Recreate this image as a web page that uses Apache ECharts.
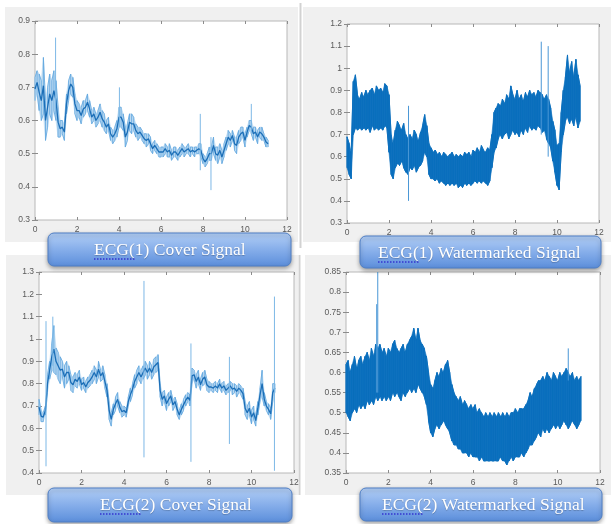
<!DOCTYPE html>
<html><head><meta charset="utf-8">
<script src="https://cdn.jsdelivr.net/npm/echarts@6/dist/echarts.min.js"></script>
<style>html,body{margin:0;padding:0;background:#fff}#c{width:611px;height:524px}</style>
</head><body><div id="c"></div>
<script>
// time step of the sampled envelopes (seconds)
const STEP = 0.1;
const xTicks = [0, 2, 4, 6, 8, 10, 12];

// ECG(1) cover signal: lower / upper envelope every 0.1 s
const c1Lo = [0.66,0.68,0.63,0.60,0.62,0.54,0.58,0.62,0.60,0.63,
0.60,0.55,0.55,0.56,0.54,0.62,0.66,0.68,0.67,0.62,
0.60,0.61,0.59,0.61,0.62,0.63,0.61,0.59,0.60,0.58,
0.59,0.60,0.58,0.57,0.56,0.57,0.54,0.53,0.54,0.55,
0.58,0.58,0.57,0.52,0.54,0.57,0.56,0.57,0.55,0.54,
0.55,0.54,0.53,0.52,0.53,0.51,0.50,0.51,0.50,0.49,
0.49,0.49,0.50,0.49,0.49,0.48,0.49,0.49,0.48,0.49,
0.50,0.49,0.50,0.50,0.49,0.50,0.49,0.50,0.50,0.49,
0.47,0.46,0.47,0.48,0.48,0.50,0.48,0.47,0.49,0.47,
0.49,0.51,0.53,0.52,0.54,0.51,0.50,0.53,0.54,0.55,
0.52,0.55,0.57,0.56,0.54,0.55,0.53,0.55,0.54,0.54,
0.52,0.52];
const c1Hi = [0.73,0.75,0.74,0.72,0.79,0.66,0.70,0.74,0.72,0.75,
0.72,0.64,0.60,0.60,0.59,0.68,0.72,0.74,0.73,0.68,
0.66,0.65,0.64,0.66,0.66,0.68,0.66,0.63,0.64,0.62,
0.63,0.65,0.63,0.62,0.60,0.61,0.58,0.57,0.58,0.60,
0.64,0.64,0.62,0.58,0.59,0.62,0.62,0.61,0.59,0.58,
0.58,0.57,0.56,0.56,0.56,0.55,0.53,0.54,0.53,0.52,
0.52,0.52,0.53,0.52,0.53,0.51,0.52,0.52,0.51,0.52,
0.53,0.52,0.52,0.53,0.52,0.52,0.52,0.52,0.53,0.53,
0.50,0.49,0.50,0.52,0.52,0.55,0.52,0.52,0.53,0.51,
0.53,0.55,0.57,0.56,0.57,0.55,0.55,0.57,0.58,0.58,
0.56,0.58,0.60,0.60,0.58,0.58,0.57,0.58,0.58,0.56,
0.55,0.54];
const c1SpkT = [0.98, 4.02, 7.87, 8.38, 10.3];
const c1SpkLo = [0.62, 0.58, 0.45, 0.39, 0.57];
const c1SpkHi = [0.85, 0.70, 0.62, 0.55, 0.65];

// ECG(1) watermarked signal
const w1Lo = [0.55,0.52,0.50,0.70,0.73,0.72,0.73,0.72,0.73,0.72,
0.73,0.71,0.74,0.72,0.73,0.72,0.73,0.72,0.74,0.73,
0.62,0.52,0.50,0.55,0.57,0.56,0.58,0.55,0.53,0.52,
0.55,0.54,0.56,0.53,0.55,0.56,0.58,0.62,0.60,0.52,
0.50,0.50,0.49,0.50,0.48,0.49,0.48,0.47,0.48,0.47,
0.48,0.47,0.48,0.46,0.47,0.46,0.48,0.47,0.48,0.47,
0.48,0.49,0.48,0.49,0.48,0.49,0.48,0.47,0.49,0.55,
0.62,0.64,0.68,0.70,0.68,0.70,0.71,0.68,0.70,0.72,
0.70,0.71,0.69,0.72,0.70,0.73,0.71,0.74,0.72,0.73,
0.72,0.74,0.73,0.71,0.72,0.68,0.66,0.64,0.58,0.53,
0.47,0.45,0.62,0.70,0.76,0.78,0.75,0.77,0.74,0.78,
0.73,0.76];
const w1Hi = [0.69,0.66,0.62,0.94,0.97,0.88,0.86,0.89,0.87,0.90,
0.88,0.90,0.91,0.88,0.92,0.90,0.91,0.89,0.93,0.92,
0.88,0.70,0.66,0.72,0.76,0.74,0.72,0.75,0.70,0.68,
0.70,0.68,0.72,0.70,0.67,0.71,0.74,0.79,0.74,0.66,
0.64,0.62,0.63,0.61,0.62,0.60,0.62,0.61,0.60,0.61,
0.62,0.60,0.61,0.60,0.61,0.60,0.62,0.61,0.62,0.60,
0.63,0.62,0.64,0.62,0.65,0.63,0.62,0.64,0.63,0.70,
0.80,0.82,0.84,0.83,0.86,0.84,0.88,0.86,0.92,0.88,
0.86,0.90,0.86,0.88,0.85,0.89,0.87,0.90,0.88,0.89,
0.87,0.90,0.89,0.88,0.86,0.88,0.86,0.82,0.76,0.72,
0.65,0.66,0.80,0.90,0.96,1.06,0.98,1.03,0.96,1.04,
0.97,0.92];
const w1SpkT = [2.93, 9.25, 9.58];
const w1SpkLo = [0.40, 0.70, 0.60];
const w1SpkHi = [0.83, 1.12, 1.10];

// ECG(2) cover signal
const c2Lo = [0.66,0.63,0.63,0.66,0.76,0.82,0.86,0.85,0.84,0.82,
0.80,0.83,0.78,0.80,0.82,0.77,0.76,0.79,0.78,0.80,
0.77,0.78,0.76,0.78,0.79,0.80,0.82,0.80,0.83,0.81,
0.82,0.78,0.74,0.64,0.61,0.66,0.68,0.70,0.67,0.65,
0.66,0.65,0.70,0.72,0.75,0.78,0.80,0.82,0.80,0.82,
0.84,0.82,0.84,0.82,0.84,0.85,0.86,0.74,0.70,0.72,
0.68,0.70,0.72,0.68,0.70,0.66,0.64,0.66,0.68,0.70,
0.72,0.70,0.80,0.82,0.78,0.80,0.77,0.79,0.80,0.77,
0.76,0.77,0.76,0.77,0.76,0.78,0.76,0.77,0.75,0.76,
0.77,0.75,0.76,0.74,0.76,0.75,0.73,0.66,0.64,0.66,
0.62,0.64,0.61,0.66,0.72,0.74,0.70,0.68,0.66,0.64,
0.72,0.76];
const c2Hi = [0.73,0.68,0.67,0.70,0.84,0.90,0.98,1.06,0.96,0.94,
0.92,0.90,0.88,0.90,0.88,0.84,0.83,0.85,0.84,0.86,
0.82,0.83,0.81,0.83,0.84,0.86,0.88,0.86,0.90,0.86,
0.88,0.84,0.80,0.72,0.67,0.71,0.74,0.76,0.72,0.70,
0.70,0.69,0.74,0.78,0.80,0.84,0.86,0.88,0.86,0.88,
0.90,0.88,0.90,0.88,0.91,0.92,0.93,0.80,0.76,0.77,
0.74,0.76,0.77,0.73,0.74,0.71,0.68,0.71,0.73,0.75,
0.76,0.75,0.87,0.86,0.84,0.86,0.82,0.85,0.86,0.82,
0.81,0.80,0.80,0.81,0.80,0.82,0.80,0.81,0.79,0.80,
0.81,0.80,0.80,0.79,0.80,0.79,0.78,0.72,0.70,0.72,
0.68,0.70,0.66,0.72,0.78,0.86,0.76,0.72,0.71,0.69,
0.80,0.80];
const c2SpkT = [0.33, 0.65, 4.94, 7.15, 8.96, 11.08];
const c2SpkLo = [0.43, 0.88, 0.47, 0.45, 0.53, 0.41];
const c2SpkHi = [1.08, 1.10, 1.26, 0.98, 0.92, 1.19];

// ECG(2) watermarked signal
const w2Lo = [0.50,0.49,0.48,0.50,0.51,0.50,0.52,0.51,0.52,0.51,
0.53,0.52,0.53,0.52,0.54,0.53,0.54,0.53,0.54,0.53,
0.54,0.53,0.55,0.54,0.55,0.54,0.53,0.55,0.54,0.55,
0.56,0.55,0.56,0.55,0.57,0.56,0.55,0.54,0.52,0.48,
0.45,0.44,0.46,0.47,0.46,0.47,0.48,0.47,0.46,0.45,
0.43,0.42,0.42,0.41,0.41,0.40,0.40,0.40,0.39,0.40,
0.39,0.39,0.39,0.38,0.39,0.38,0.38,0.38,0.38,0.38,
0.38,0.38,0.38,0.39,0.38,0.38,0.37,0.38,0.39,0.38,
0.39,0.39,0.39,0.40,0.39,0.40,0.41,0.42,0.42,0.43,
0.44,0.45,0.44,0.46,0.45,0.46,0.45,0.46,0.47,0.46,
0.47,0.46,0.47,0.48,0.47,0.46,0.47,0.48,0.47,0.46,
0.47,0.48];
const w2Hi = [0.62,0.63,0.60,0.62,0.64,0.61,0.63,0.64,0.62,0.64,
0.65,0.63,0.66,0.64,0.67,0.66,0.67,0.65,0.66,0.64,
0.66,0.65,0.67,0.68,0.66,0.65,0.66,0.67,0.65,0.67,
0.68,0.69,0.71,0.68,0.71,0.68,0.67,0.66,0.64,0.60,
0.57,0.56,0.58,0.60,0.59,0.61,0.60,0.62,0.63,0.60,
0.57,0.55,0.54,0.53,0.54,0.52,0.53,0.52,0.51,0.52,
0.51,0.52,0.50,0.51,0.50,0.49,0.50,0.49,0.50,0.49,
0.50,0.49,0.50,0.49,0.50,0.49,0.50,0.49,0.50,0.50,
0.51,0.50,0.51,0.51,0.51,0.52,0.53,0.55,0.54,0.56,
0.57,0.58,0.58,0.59,0.58,0.60,0.59,0.58,0.60,0.59,
0.58,0.60,0.59,0.60,0.61,0.60,0.59,0.60,0.58,0.59,
0.58,0.59];
const w2SpkT = [1.45, 1.50, 10.5];
const w2SpkLo = [0.55, 0.55, 0.58];
const w2SpkHi = [0.77, 0.85, 0.66];

const titles = ['ECG(1) Cover Signal', 'ECG(1) Watermarked Signal', 'ECG(2) Cover Signal', 'ECG(2) Watermarked Signal'];

const panels = [
  {lo:c1Lo, hi:c1Hi, st:c1SpkT, sl:c1SpkLo, sh:c1SpkHi, cover:true,  g:{left:35, top:21, width:252, height:199}, y:[0.3,0.9,0.1]},
  {lo:w1Lo, hi:w1Hi, st:w1SpkT, sl:w1SpkLo, sh:w1SpkHi, cover:false, g:{left:347,top:24, width:252, height:199}, y:[0.3,1.2,0.1]},
  {lo:c2Lo, hi:c2Hi, st:c2SpkT, sl:c2SpkLo, sh:c2SpkHi, cover:true,  g:{left:39, top:272,width:255, height:201}, y:[0.4,1.3,0.1]},
  {lo:w2Lo, hi:w2Hi, st:w2SpkT, sl:w2SpkLo, sh:w2SpkHi, cover:false, g:{left:346,top:272,width:254, height:201}, y:[0.35,0.85,0.05]}
];

const tOf = i => +(i * STEP).toFixed(2);
function zigzag(lo, hi) {
  const d = [];
  for (let i = 0; i < lo.length; i++) {
    if (i % 2 === 0) { d.push([tOf(i), lo[i]], [tOf(i), hi[i]]); }
    else { d.push([tOf(i), hi[i]], [tOf(i), lo[i]]); }
  }
  return d;
}
// band segments: [t, lo, hi, tNext, loNext, hiNext]
function segments(lo, hi) {
  const d = [];
  for (let i = 0; i + 1 < lo.length; i++) d.push([tOf(i), lo[i], hi[i], tOf(i + 1), lo[i + 1], hi[i + 1]]);
  return d;
}
const core = (lo, hi) => lo.map((v, i) => [tOf(i), (v + hi[i]) / 2]);
function spikes(t, lo, hi) {
  const d = [];
  t.forEach((x, i) => { d.push([x, lo[i]], [x, hi[i]], [x, '-']); });
  return d;
}
function bandRenderer(color) {
  return function (params, api) {
    const a = api.coord([api.value(0), api.value(1)]);
    const b = api.coord([api.value(0), api.value(2)]);
    const c = api.coord([api.value(3), api.value(5)]);
    const d = api.coord([api.value(3), api.value(4)]);
    return {type:'polygon', shape:{points:[a, b, c, d]}, style:{fill:color, stroke:color, lineWidth:0.6}, silent:true};
  };
}

const grids = [], xAxes = [], yAxes = [], series = [];
const tickStyle = {color:'#8c8c8c', width:1};
const labelStyle = {fontSize:8.5, color:'#5a5a5a', margin:5, fontFamily:'Liberation Sans'};
panels.forEach((p, k) => {
  grids.push(Object.assign({show:true, backgroundColor:'#ffffff', borderColor:'#b8b8b8', borderWidth:1, containLabel:false, outerBoundsMode:'none'}, p.g));
  const xBase = {type:'value', gridIndex:k, min:0, max:12, interval:2, splitLine:{show:false}, axisLine:{show:false},
    axisTick:{show:true, inside:true, length:3, lineStyle:tickStyle}};
  xAxes.push(Object.assign({}, xBase, {position:'bottom', axisLabel:labelStyle}));
  xAxes.push(Object.assign({}, xBase, {position:'top', axisLabel:{show:false}}));
  const yBase = {type:'value', gridIndex:k, min:p.y[0], max:p.y[1], interval:p.y[2], splitLine:{show:false}, axisLine:{show:false},
    axisTick:{show:true, inside:true, length:3, lineStyle:tickStyle}};
  yAxes.push(Object.assign({}, yBase, {position:'left', axisLabel:labelStyle}));
  yAxes.push(Object.assign({}, yBase, {position:'right', axisLabel:{show:false}}));
  const xi = 2 * k, yi = 2 * k;
  const common = {type:'line', xAxisIndex:xi, yAxisIndex:yi, symbol:'none', silent:true, animation:false, sampling:null, connectNulls:false};
  const fill = p.cover ? '#bcdaf2' : '#0a6fbd';
  series.push({type:'custom', xAxisIndex:xi, yAxisIndex:yi, silent:true, animation:false, renderItem:bandRenderer(fill),
    encode:{x:[0, 3], y:[1, 2, 4, 5]}, data:segments(p.lo, p.hi)});
  if (p.cover) {
    series.push(Object.assign({}, common, {data:zigzag(p.lo, p.hi), lineStyle:{color:'#5fa6de', width:0.8}}));
    series.push(Object.assign({}, common, {data:core(p.lo, p.hi), lineStyle:{color:'#1b6eb7', width:1.3}}));
    series.push(Object.assign({}, common, {data:spikes(p.st, p.sl, p.sh), lineStyle:{color:'#7db8e6', width:1}}));
  } else {
    series.push(Object.assign({}, common, {data:zigzag(p.lo, p.hi), lineStyle:{color:'#0c70be', width:1}}));
    series.push(Object.assign({}, common, {data:spikes(p.st, p.sl, p.sh), lineStyle:{color:'#4a97d6', width:1}}));
  }
});

// panel backgrounds and buttons (layout only)
const bgRects = [[5,7,293,235],[303,7,308,235],[6,255,292,240],[305,255,306,240]];
const buttons = [
  {x:48, y:233, w:243, h:33, tx:94,  ty:250},
  {x:360,y:236, w:241, h:32, tx:378, ty:253},
  {x:48, y:488, w:244, h:34, tx:100, ty:505},
  {x:360,y:488, w:242, h:33, tx:382, ty:505}
];
const graphic = [];
bgRects.forEach(r => graphic.push({type:'rect', z:-10, silent:true, shape:{x:r[0], y:r[1], width:r[2], height:r[3]}, style:{fill:'#f0f0f0'}}));
graphic.push({type:'line', z:-9, silent:true, shape:{x1:300.5, y1:3, x2:300.5, y2:248}, style:{stroke:'#d2d2d2', lineWidth:2}});
graphic.push({type:'line', z:-9, silent:true, shape:{x1:299.5, y1:255, x2:299.5, y2:495}, style:{stroke:'#d2d2d2', lineWidth:2}});
buttons.forEach((b, i) => {
  graphic.push({type:'rect', z:100, silent:true, shape:{x:b.x, y:b.y, width:b.w, height:b.h, r:6},
    style:{fill:{type:'linear', x:0, y:0, x2:0, y2:1, colorStops:[{offset:0, color:'#b3cff6'},{offset:0.5, color:'#86aeea'},{offset:1, color:'#5b8edb'}]},
      stroke:'#4f7fc6', lineWidth:1, shadowBlur:4, shadowOffsetY:2, shadowColor:'rgba(0,0,0,0.35)'}});
  graphic.push({type:'text', z:101, silent:true, style:{text:titles[i], x:b.tx, y:b.ty, fill:'#ffffff', font:'17.5px "Liberation Serif"',
    align:'left', verticalAlign:'middle', textAlign:'left', textVerticalAlign:'middle',
    textShadowColor:'rgba(0,0,0,0.25)', textShadowBlur:1, textShadowOffsetY:1}});
  graphic.push({type:'line', z:102, silent:true, shape:{x1:b.tx, y1:b.ty + 9, x2:b.tx + 41, y2:b.ty + 9},
    style:{stroke:'#3535d0', lineWidth:1.5, lineDash:[1.5,1.5]}});
});

const chart = echarts.init(document.getElementById('c'), null, {renderer:'canvas'});
chart.setOption({
  backgroundColor:'#ffffff',
  animation:false,
  grid:grids, xAxis:xAxes, yAxis:yAxes, series:series, graphic:graphic
});
</script></body></html>
